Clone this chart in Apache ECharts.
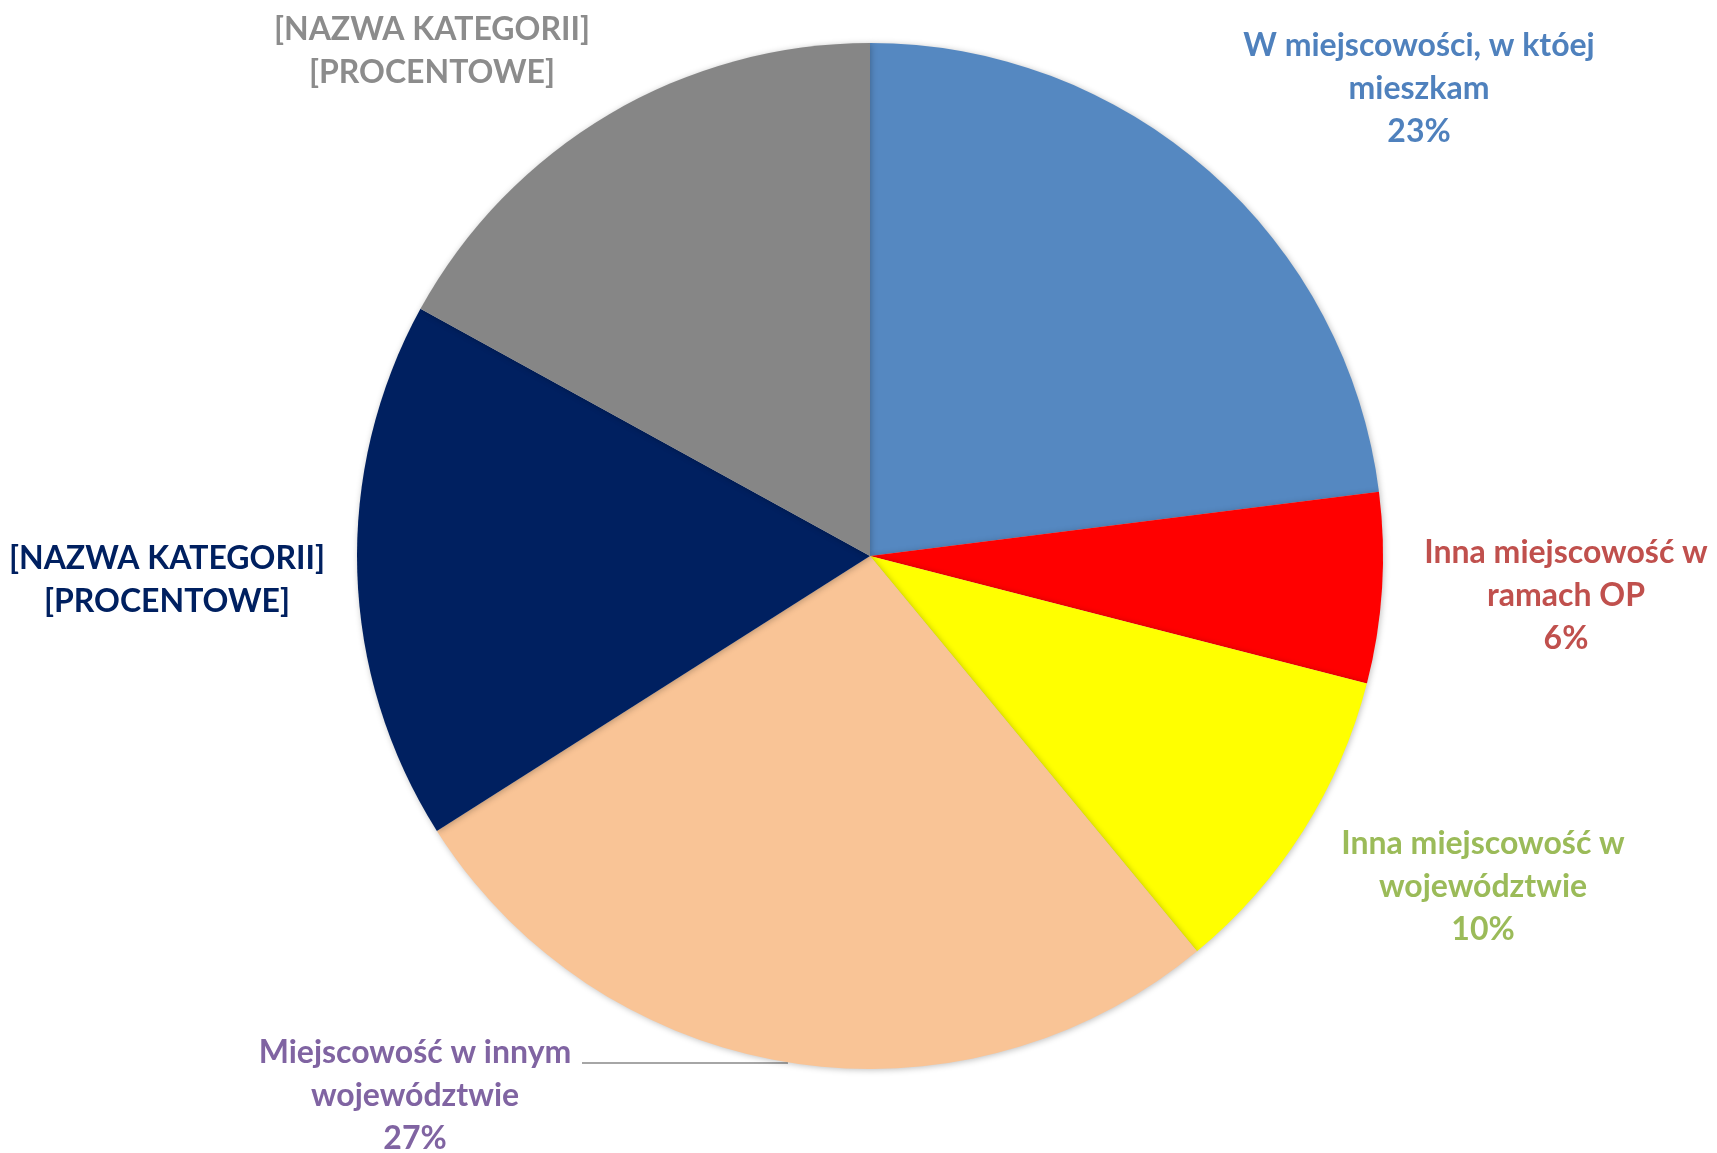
<!DOCTYPE html>
<html>
<head>
<meta charset="utf-8">
<script src="https://cdn.jsdelivr.net/npm/echarts@6/dist/echarts.min.js"></script>
<style>
html,body{margin:0;padding:0;background:#fff;}
#chart{width:1717px;height:1153px;}
</style>
</head>
<body>
<div id="chart"></div>
<script>
// Data
const categories = [
  'W miejscowości, w któej mieszkam',
  'Inna miejscowość w ramach OP',
  'Inna miejscowość w województwie',
  'Miejscowość w innym województwie',
  '[NAZWA KATEGORII]',
  '[NAZWA KATEGORII]'
];
const labelNames = [
  'W miejscowości, w któej\nmieszkam',
  'Inna miejscowość w\nramach OP',
  'Inna miejscowość w\nwojewództwie',
  'Miejscowość w innym\nwojewództwie',
  '[NAZWA KATEGORII]',
  '[NAZWA KATEGORII]'
];
const values = [23, 6, 10, 27, 17, 17];
const placeholderPercent = [false, false, false, false, true, true];

// Styles
const sliceColors = ['#5588C1', '#FF0000', '#FFFF00', '#F9C496', '#002060', '#868686'];
const labelColors = ['#4F81BD', '#C0504D', '#9BBB59', '#8064A2', '#002060', '#8C8C8C'];
const labelPos = [[1419, 89], [1566, 596], [1483, 887], [415, 1096], [167, 580], [432, 51]];

const data = categories.map((c, i) => ({
  name: c,
  value: values[i],
  itemStyle: { color: sliceColors[i] },
  label: {
    color: labelColors[i],
    formatter: (p) => labelNames[i] + '\n' + (placeholderPercent[i] ? '[PROCENTOWE]' : p.percent + '%')
  }
}));

const chart = echarts.init(document.getElementById('chart'));
chart.setOption({
  backgroundColor: '#ffffff',
  animation: false,
  series: [{
    type: 'pie',
    center: [870, 556],
    radius: 513,
    startAngle: 90,
    clockwise: true,
    percentPrecision: 0,
    data: data,
    itemStyle: { borderWidth: 0, shadowBlur: 6, shadowColor: 'rgba(0,0,0,0.25)', shadowOffsetX: 1, shadowOffsetY: 1 },
    label: {
      show: true,
      position: 'outside',
      fontFamily: 'Lato',
      fontWeight: 'bold',
      fontSize: 32,
      lineHeight: 43,
      align: 'center',
      overflow: 'none',
      width: 600
    },
    labelLine: { show: true, lineStyle: { color: '#A6A6A6', width: 2 } },
    labelLayout: function (params) {
      const i = params.dataIndex;
      const res = { x: labelPos[i][0], y: labelPos[i][1], align: 'center', verticalAlign: 'middle' };
      if (i === 3) {
        res.labelLinePoints = [[788, 1063], [690, 1063], [582, 1063]];
      } else {
        res.labelLinePoints = [[0, 0], [0, 0], [0, 0]];
      }
      return res;
    }
  }]
});
</script>
</body>
</html>
